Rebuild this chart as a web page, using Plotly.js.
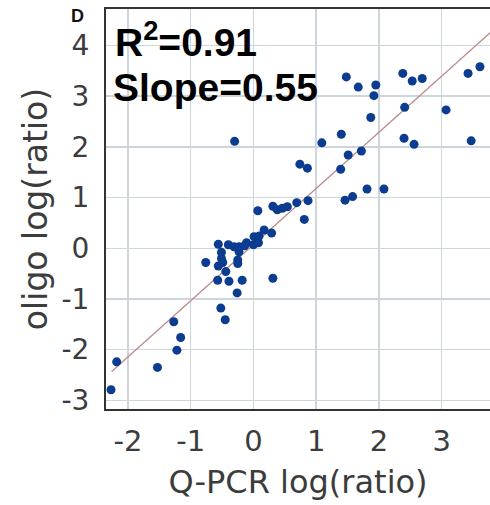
<!DOCTYPE html>
<html>
<head>
<meta charset="utf-8">
<script src="https://cdn.plot.ly/plotly-3.0.1.min.js"></script>
<style>html,body{margin:0;padding:0;background:#fff;}#chart{width:490px;height:505px;}</style>
</head>
<body>
<div id="chart"></div>
<script>
// Q-PCR log(ratio) vs oligo log(ratio)
var qpcr = [-0.30, 1.48, 1.67, 1.95, 1.92, 1.87, 1.40, 1.09, 1.51, 1.72,
            2.38, 2.53, 2.69, 3.42, 3.61, 2.41, 3.07, 2.40, 2.56, 3.47,
            0.74, 0.86, 1.39, 1.81, 2.08, 1.46, 1.58, 0.69, 0.87, 0.81,
            0.07, 0.31, 0.38, 0.46, 0.54, 0.17, 0.29, 0.09, 0.01, 0.08,
            0.00, -0.11, -0.14, -0.23, -0.31, -0.40, -0.56, -0.23, -0.51, -0.51,
            -0.49, -0.56, -0.76, -0.25, -0.25, -0.44, -0.57, -0.39, -0.18, 0.31,
            -0.26, -0.52, -0.45, -1.27, -1.16, -1.22, -1.53, -2.18, -2.27];
var oligo = [2.11, 3.38, 3.18, 3.22, 3.01, 2.58, 2.25, 2.08, 1.84, 1.92,
             3.45, 3.30, 3.35, 3.45, 3.58, 2.78, 2.73, 2.17, 2.05, 2.12,
             1.66, 1.58, 1.56, 1.17, 1.17, 0.95, 1.02, 0.90, 0.94, 0.57,
             0.74, 0.83, 0.76, 0.79, 0.82, 0.36, 0.30, 0.24, 0.23, 0.11,
             0.07, 0.11, 0.05, 0.03, 0.03, 0.07, 0.08, -0.07, -0.08, -0.20,
             -0.28, -0.35, -0.28, -0.23, -0.30, -0.46, -0.63, -0.65, -0.63, -0.59,
             -0.88, -1.18, -1.41, -1.45, -1.76, -2.01, -2.35, -2.24, -2.79];
// fitted line end points
var fitX = [-2.26, 3.80];
var fitY = [-2.43, 4.28];
var xTickVals = [-2, -1, 0, 1, 2, 3];
var xTickText = ["-2", "-1", "0", "1", "2", "3"];
var yTickVals = [-3, -2, -1, 0, 1, 2, 3, 4];
var yTickText = ["-3", "-2", "-1", "0", "1", "2", "3", "4"];
var statR2 = "R<sup>2</sup>=0.91";
var statSlope = "Slope=0.55";
var panelLabel = "D";

var traces = [
  {x: fitX, y: fitY, mode: 'lines', type: 'scatter',
   line: {color: '#bb8a8c', width: 1.3}, hoverinfo: 'skip', showlegend: false},
  {x: qpcr, y: oligo, mode: 'markers', type: 'scatter',
   marker: {color: '#0b3c8f', size: 9}, showlegend: false}
];

var layout = {
  width: 490, height: 505,
  margin: {l: 106, r: 0, t: 9, b: 96},
  paper_bgcolor: '#ffffff', plot_bgcolor: '#ffffff',
  showlegend: false,
  xaxis: {
    range: [-2.35, 3.77], tickvals: xTickVals, ticktext: xTickText, ticks: '',
    showgrid: true, gridcolor: '#cdd6dd', gridwidth: 1.5, zeroline: false,
    showline: true, linecolor: '#333333', linewidth: 2, mirror: true,
    tickfont: {family: 'DejaVu Sans', size: 29, color: '#3c3c3c'},
    ticklabelstandoff: 5,
    title: {text: 'Q-PCR log(ratio)', font: {family: 'DejaVu Sans', size: 32, color: '#3c3c3c'}, standoff: 14}
  },
  yaxis: {
    range: [-3.17, 4.72], tickvals: yTickVals, ticktext: yTickText, ticks: '',
    showgrid: true, gridcolor: '#cdd6dd', gridwidth: 1.5, zeroline: false,
    showline: true, linecolor: '#333333', linewidth: 2,
    tickfont: {family: 'DejaVu Sans', size: 28, color: '#3c3c3c'},
    ticklabelstandoff: 9,
    title: {text: 'oligo log(ratio)', font: {family: 'DejaVu Sans', size: 33, color: '#3c3c3c'}, standoff: 4}
  },
  annotations: [
    {text: panelLabel, xref: 'paper', yref: 'paper', x: -0.075, y: 0.982,
     xanchor: 'center', yanchor: 'middle', showarrow: false,
     font: {family: 'Liberation Sans', size: 18, color: '#111', weight: 'bold'}},
    {text: '<b>' + statR2 + '</b>', xref: 'paper', yref: 'paper', x: 0.018, y: 0.924,
     xanchor: 'left', yanchor: 'middle', showarrow: false,
     font: {family: 'Liberation Sans', size: 39, color: '#000'}},
    {text: '<b>' + statSlope + '</b>', xref: 'paper', yref: 'paper', x: 0.014, y: 0.803,
     xanchor: 'left', yanchor: 'middle', showarrow: false,
     font: {family: 'Liberation Sans', size: 39, color: '#000'}}
  ]
};

Plotly.newPlot('chart', traces, layout, {displayModeBar: false, staticPlot: true});
</script>
</body>
</html>
